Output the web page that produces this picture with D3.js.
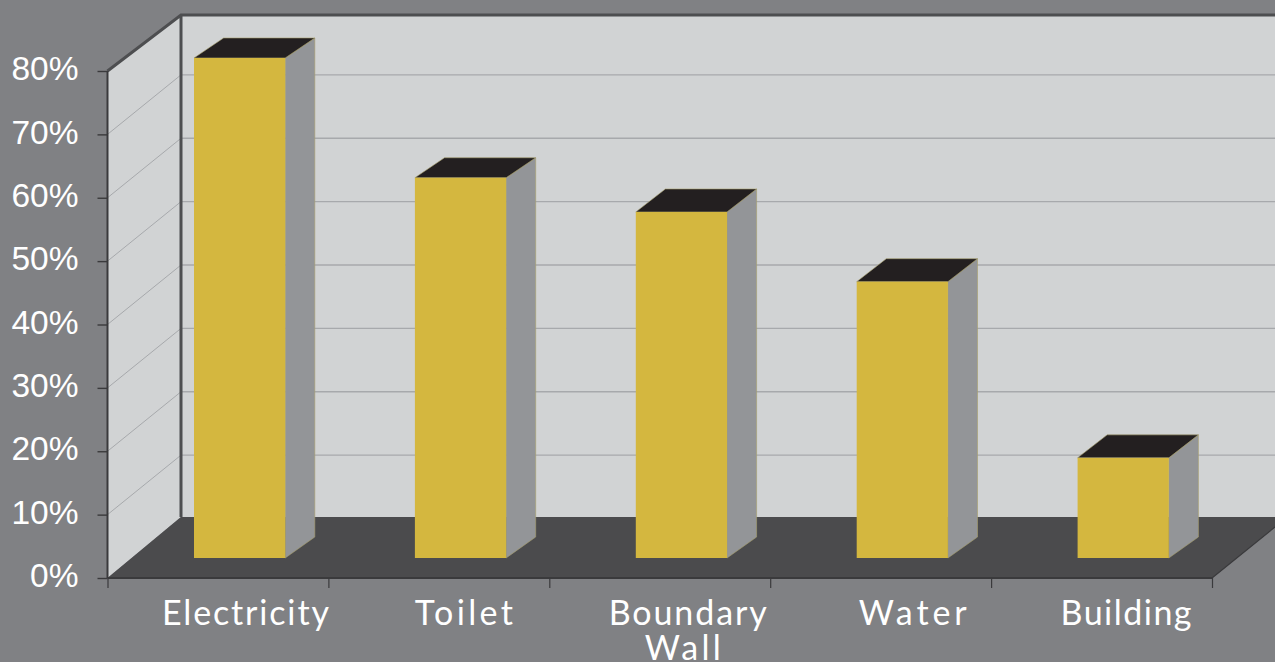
<!DOCTYPE html>
<html>
<head>
<meta charset="utf-8">
<script src="https://cdn.jsdelivr.net/npm/d3@7/dist/d3.min.js"></script>
<style>
  html, body { margin: 0; padding: 0; background: #808184; overflow: hidden; }
  svg { display: block; }
  .pct text { font-family: "Liberation Sans", Arial, sans-serif; font-size: 33.5px; fill: #fff; }
  .cat { font-family: Lato, "Open Sans", sans-serif; font-size: 34px; fill: #fff; text-anchor: middle; }
</style>
</head>
<body>
<svg id="chart" width="1275" height="662"></svg>
<script>
// Share of facilities by category, in percent
const categories = ["Electricity", "Toilet", "Boundary|Wall", "Water", "Building"];
const values = [78.9, 60, 54.6, 43.6, 15.8];
const yTicks = [0, 10, 20, 30, 40, 50, 60, 70, 80];

const W = 1275, H = 662;
const left = 107.5, right = 1212, base = 578, topFront = 71;
const wallX = 181, wallTop = 15, wallBase = 517;
const gridDy = 59.5;           // vertical shift of a gridline from the front edge to the back wall
const barInset = 20;           // bars stand this far above the front floor edge
const barLead = 86.5, barW = 91.2, barDx = 29.6, barDy = 21;
const capDepth = [20, 20, 23, 23, 23];   // height of each bar's top face

const svg = d3.select("#chart");
const y = d3.scaleLinear().domain([0, 80]).range([base, topFront]);
const x = d3.scaleBand().domain(categories).range([left, right]);
const poly = pts => pts.map(p => p.join(",")).join(" ");

svg.append("rect").attr("width", W).attr("height", H).attr("fill", "#808184");

// Back wall and side wall
svg.append("rect").attr("x", wallX).attr("y", wallTop).attr("width", W - wallX).attr("height", wallBase - wallTop).attr("fill", "#d1d3d4");
svg.append("polygon").attr("points", poly([[left, topFront], [wallX, wallTop], [wallX, wallBase], [left, base]])).attr("fill", "#d1d3d4");

// Gridlines on both walls
const gridTicks = yTicks.filter(t => t > 0 && t < 80);
svg.append("g").selectAll("line.back").data(gridTicks).join("line")
  .attr("x1", wallX).attr("x2", W)
  .attr("y1", t => y(t) - gridDy).attr("y2", t => y(t) - gridDy)
  .attr("stroke", "#a7a9ac").attr("stroke-width", 1.3);
svg.append("g").selectAll("line.side").data(gridTicks).join("line")
  .attr("x1", left).attr("x2", wallX)
  .attr("y1", t => y(t)).attr("y2", t => y(t) - gridDy)
  .attr("stroke", "#a7a9ac").attr("stroke-width", 1);

// Floor
svg.append("polygon")
  .attr("points", poly([[left, base], [wallX, wallBase], [W, wallBase], [W, 527], [right, base]]))
  .attr("fill", "#4b4b4d");
svg.append("line").attr("x1", right).attr("y1", base).attr("x2", W).attr("y2", 527)
  .attr("stroke", "#3a3a3c").attr("stroke-width", 1.2);

// Heavy frame of the walls
svg.append("path")
  .attr("d", `M${left},${topFront}L${wallX},${wallTop}H${W}M${wallX},${wallTop}V${wallBase}`)
  .attr("fill", "none").attr("stroke", "#4d4e50").attr("stroke-width", 3);

// Bars: side, top and front faces
const bars = svg.append("g").selectAll("g").data(categories).join("g");
const bx = c => x(c) + barLead;
const by = (c, i) => y(values[i]) - barInset;
const bb = base - barInset;

bars.append("polygon").attr("fill", "#939598").attr("stroke", "#a89f6c").attr("stroke-width", 0.6)
  .attr("points", (c, i) => poly([
    [bx(c) + barW, by(c, i)], [bx(c) + barW + barDx, by(c, i) - capDepth[i]],
    [bx(c) + barW + barDx, bb - barDy], [bx(c) + barW, bb]]));
bars.append("polygon").attr("fill", "#231f20").attr("stroke", "#a89f6c").attr("stroke-width", 0.6)
  .attr("points", (c, i) => poly([
    [bx(c), by(c, i)], [bx(c) + barDx, by(c, i) - capDepth[i]],
    [bx(c) + barW + barDx, by(c, i) - capDepth[i]], [bx(c) + barW, by(c, i)]]));
bars.append("rect").attr("fill", "#d4b73f")
  .attr("x", bx).attr("y", by).attr("width", barW)
  .attr("height", (c, i) => bb - by(c, i));

// Value axis
const yAxis = svg.append("g").attr("class", "pct").attr("transform", `translate(${left},0)`)
  .call(d3.axisLeft(y).tickValues(yTicks).tickSize(10).tickPadding(19).tickFormat(d => d + "%"));
yAxis.select(".domain").attr("stroke", "#3a3a3c").attr("stroke-width", 2).attr("d", `M0,${topFront}V${base}`);
yAxis.selectAll(".tick line").attr("stroke", "#3a3a3c").attr("stroke-width", 1.4);
yAxis.selectAll(".tick text").attr("dy", "0.26em");

// Category axis: tick marks fall on the band edges
const edges = d3.scaleLinear().domain([0, categories.length]).range([left, right]);
const xAxis = svg.append("g").attr("transform", `translate(0,${base})`)
  .call(d3.axisBottom(edges).tickValues(d3.range(categories.length + 1)).tickSize(10).tickFormat(""));
xAxis.select(".domain").attr("stroke", "#3a3a3c").attr("stroke-width", 2).attr("d", `M${left},0H${right}`);
xAxis.selectAll(".tick line").attr("stroke", "#3a3a3c").attr("stroke-width", 1.2);

// Category names, one entry per line: horizontal nudge from the band centre and set width
const lineShift = [[27.5], [25], [28, 23], [32], [24.5]];
const lineWidth = [[167], [98], [158], [108], [131]];
lineWidth[2].push(76);
const labels = svg.append("g").selectAll("text").data(categories).join("text")
  .attr("class", "cat")
  .attr("y", 624.5);
labels.each(function (c, i) {
  d3.select(this).selectAll("tspan").data(c.split("|")).join("tspan")
    .attr("x", (d, k) => x(c) + x.bandwidth() / 2 + lineShift[i][k])
    .attr("dy", (d, k) => k ? 35.5 : 0)
    .attr("textLength", (d, k) => lineWidth[i][k])
    .attr("lengthAdjust", "spacing")
    .text(d => d);
});
</script>
</body>
</html>
